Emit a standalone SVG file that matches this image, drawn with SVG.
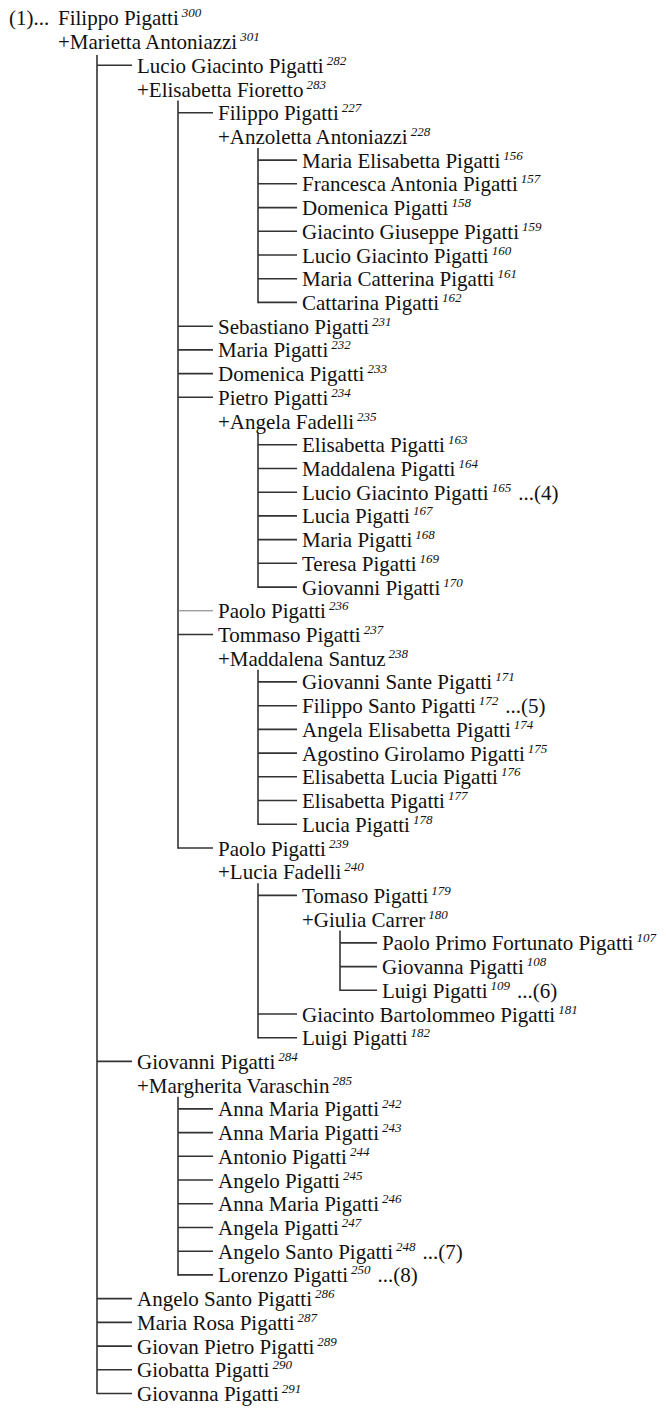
<svg xmlns="http://www.w3.org/2000/svg" width="666" height="1408" viewBox="0 0 666 1408">
<style>
text{font-family:"Liberation Serif","Times New Roman",serif;font-size:21px;fill:#111}
.n{font-style:italic;font-size:13px}
.c line{stroke:#333;stroke-width:1.6}
.c line.t{stroke:#777;stroke-width:1}
</style>
<rect width="666" height="1408" fill="#fff"/>
<g class="c" id="connectors">
<line x1="97" y1="55" x2="97" y2="1394"/>
<line x1="97" y1="65.2" x2="132" y2="65.2"/>
<line x1="97" y1="1061.4" x2="132" y2="1061.4"/>
<line x1="97" y1="1298.6" x2="132" y2="1298.6"/>
<line x1="97" y1="1322.4" x2="132" y2="1322.4"/>
<line x1="97" y1="1346.1" x2="132" y2="1346.1"/>
<line x1="97" y1="1369.8" x2="132" y2="1369.8"/>
<line x1="97" y1="1393.5" x2="132" y2="1393.5"/>
<line x1="178" y1="100.5" x2="178" y2="848.8"/>
<line x1="178" y1="112.7" x2="213" y2="112.7"/>
<line x1="178" y1="326.2" x2="213" y2="326.2"/>
<line x1="178" y1="349.9" x2="213" y2="349.9"/>
<line x1="178" y1="373.6" x2="213" y2="373.6"/>
<line x1="178" y1="397.3" x2="213" y2="397.3"/>
<line class="t" x1="178" y1="610.8" x2="213" y2="610.8"/>
<line x1="178" y1="634.5" x2="213" y2="634.5"/>
<line x1="178" y1="848" x2="213" y2="848"/>
<line x1="258" y1="148" x2="258" y2="303.2"/>
<line x1="258" y1="160.1" x2="297" y2="160.1"/>
<line x1="258" y1="183.8" x2="297" y2="183.8"/>
<line x1="258" y1="207.6" x2="297" y2="207.6"/>
<line x1="258" y1="231.3" x2="297" y2="231.3"/>
<line x1="258" y1="255" x2="297" y2="255"/>
<line x1="258" y1="278.7" x2="297" y2="278.7"/>
<line x1="258" y1="302.4" x2="297" y2="302.4"/>
<line x1="258" y1="432.5" x2="258" y2="587.9"/>
<line x1="258" y1="444.8" x2="297" y2="444.8"/>
<line x1="258" y1="468.5" x2="297" y2="468.5"/>
<line x1="258" y1="492.2" x2="297" y2="492.2"/>
<line x1="258" y1="515.9" x2="297" y2="515.9"/>
<line x1="258" y1="539.6" x2="297" y2="539.6"/>
<line x1="258" y1="563.3" x2="297" y2="563.3"/>
<line x1="258" y1="587.1" x2="297" y2="587.1"/>
<line x1="258" y1="669.7" x2="258" y2="825.1"/>
<line x1="258" y1="681.9" x2="297" y2="681.9"/>
<line x1="258" y1="705.7" x2="297" y2="705.7"/>
<line x1="258" y1="729.4" x2="297" y2="729.4"/>
<line x1="258" y1="753.1" x2="297" y2="753.1"/>
<line x1="258" y1="776.8" x2="297" y2="776.8"/>
<line x1="258" y1="800.5" x2="297" y2="800.5"/>
<line x1="258" y1="824.3" x2="297" y2="824.3"/>
<line x1="258" y1="883.2" x2="258" y2="1038.5"/>
<line x1="258" y1="895.4" x2="297" y2="895.4"/>
<line x1="258" y1="1014" x2="297" y2="1014"/>
<line x1="258" y1="1037.7" x2="297" y2="1037.7"/>
<line x1="340" y1="930.6" x2="340" y2="991.1"/>
<line x1="340" y1="942.9" x2="377" y2="942.9"/>
<line x1="340" y1="966.6" x2="377" y2="966.6"/>
<line x1="340" y1="990.3" x2="377" y2="990.3"/>
<line x1="178" y1="1096.7" x2="178" y2="1275.7"/>
<line x1="178" y1="1108.9" x2="213" y2="1108.9"/>
<line x1="178" y1="1132.6" x2="213" y2="1132.6"/>
<line x1="178" y1="1156.3" x2="213" y2="1156.3"/>
<line x1="178" y1="1180" x2="213" y2="1180"/>
<line x1="178" y1="1203.8" x2="213" y2="1203.8"/>
<line x1="178" y1="1227.5" x2="213" y2="1227.5"/>
<line x1="178" y1="1251.2" x2="213" y2="1251.2"/>
<line x1="178" y1="1274.9" x2="213" y2="1274.9"/>
</g>
<g id="p300"><text x="9" y="25.3">(1)...<tspan x="58">Filippo Pigatti</tspan><tspan class="n" dx="3" dy="-8">300</tspan></text></g>
<g id="p301"><text x="58" y="49">+Marietta Antoniazzi<tspan class="n" dx="3" dy="-8">301</tspan></text></g>
<g id="p282"><text x="137" y="72.7">Lucio Giacinto Pigatti<tspan class="n" dx="3" dy="-8">282</tspan></text></g>
<g id="p283"><text x="137" y="96.5">+Elisabetta Fioretto<tspan class="n" dx="3" dy="-8">283</tspan></text></g>
<g id="p227"><text x="218" y="120.2">Filippo Pigatti<tspan class="n" dx="3" dy="-8">227</tspan></text></g>
<g id="p228"><text x="218" y="143.9">+Anzoletta Antoniazzi<tspan class="n" dx="3" dy="-8">228</tspan></text></g>
<g id="p156"><text x="302" y="167.6">Maria Elisabetta Pigatti<tspan class="n" dx="3" dy="-8">156</tspan></text></g>
<g id="p157"><text x="302" y="191.3">Francesca Antonia Pigatti<tspan class="n" dx="3" dy="-8">157</tspan></text></g>
<g id="p158"><text x="302" y="215.1">Domenica Pigatti<tspan class="n" dx="3" dy="-8">158</tspan></text></g>
<g id="p159"><text x="302" y="238.8">Giacinto Giuseppe Pigatti<tspan class="n" dx="3" dy="-8">159</tspan></text></g>
<g id="p160"><text x="302" y="262.5">Lucio Giacinto Pigatti<tspan class="n" dx="3" dy="-8">160</tspan></text></g>
<g id="p161"><text x="302" y="286.2">Maria Catterina Pigatti<tspan class="n" dx="3" dy="-8">161</tspan></text></g>
<g id="p162"><text x="302" y="309.9">Cattarina Pigatti<tspan class="n" dx="3" dy="-8">162</tspan></text></g>
<g id="p231"><text x="218" y="333.7">Sebastiano Pigatti<tspan class="n" dx="3" dy="-8">231</tspan></text></g>
<g id="p232"><text x="218" y="357.4">Maria Pigatti<tspan class="n" dx="3" dy="-8">232</tspan></text></g>
<g id="p233"><text x="218" y="381.1">Domenica Pigatti<tspan class="n" dx="3" dy="-8">233</tspan></text></g>
<g id="p234"><text x="218" y="404.8">Pietro Pigatti<tspan class="n" dx="3" dy="-8">234</tspan></text></g>
<g id="p235"><text x="218" y="428.5">+Angela Fadelli<tspan class="n" dx="3" dy="-8">235</tspan></text></g>
<g id="p163"><text x="302" y="452.3">Elisabetta Pigatti<tspan class="n" dx="3" dy="-8">163</tspan></text></g>
<g id="p164"><text x="302" y="476">Maddalena Pigatti<tspan class="n" dx="3" dy="-8">164</tspan></text></g>
<g id="p165"><text x="302" y="499.7">Lucio Giacinto Pigatti<tspan class="n" dx="3" dy="-8">165</tspan><tspan dx="7" dy="8">...(4)</tspan></text></g>
<g id="p167"><text x="302" y="523.4">Lucia Pigatti<tspan class="n" dx="3" dy="-8">167</tspan></text></g>
<g id="p168"><text x="302" y="547.1">Maria Pigatti<tspan class="n" dx="3" dy="-8">168</tspan></text></g>
<g id="p169"><text x="302" y="570.8">Teresa Pigatti<tspan class="n" dx="3" dy="-8">169</tspan></text></g>
<g id="p170"><text x="302" y="594.6">Giovanni Pigatti<tspan class="n" dx="3" dy="-8">170</tspan></text></g>
<g id="p236"><text x="218" y="618.3">Paolo Pigatti<tspan class="n" dx="3" dy="-8">236</tspan></text></g>
<g id="p237"><text x="218" y="642">Tommaso Pigatti<tspan class="n" dx="3" dy="-8">237</tspan></text></g>
<g id="p238"><text x="218" y="665.7">+Maddalena Santuz<tspan class="n" dx="3" dy="-8">238</tspan></text></g>
<g id="p171"><text x="302" y="689.4">Giovanni Sante Pigatti<tspan class="n" dx="3" dy="-8">171</tspan></text></g>
<g id="p172"><text x="302" y="713.2">Filippo Santo Pigatti<tspan class="n" dx="3" dy="-8">172</tspan><tspan dx="7" dy="8">...(5)</tspan></text></g>
<g id="p174"><text x="302" y="736.9">Angela Elisabetta Pigatti<tspan class="n" dx="3" dy="-8">174</tspan></text></g>
<g id="p175"><text x="302" y="760.6">Agostino Girolamo Pigatti<tspan class="n" dx="3" dy="-8">175</tspan></text></g>
<g id="p176"><text x="302" y="784.3">Elisabetta Lucia Pigatti<tspan class="n" dx="3" dy="-8">176</tspan></text></g>
<g id="p177"><text x="302" y="808">Elisabetta Pigatti<tspan class="n" dx="3" dy="-8">177</tspan></text></g>
<g id="p178"><text x="302" y="831.8">Lucia Pigatti<tspan class="n" dx="3" dy="-8">178</tspan></text></g>
<g id="p239"><text x="218" y="855.5">Paolo Pigatti<tspan class="n" dx="3" dy="-8">239</tspan></text></g>
<g id="p240"><text x="218" y="879.2">+Lucia Fadelli<tspan class="n" dx="3" dy="-8">240</tspan></text></g>
<g id="p179"><text x="302" y="902.9">Tomaso Pigatti<tspan class="n" dx="3" dy="-8">179</tspan></text></g>
<g id="p180"><text x="302" y="926.6">+Giulia Carrer<tspan class="n" dx="3" dy="-8">180</tspan></text></g>
<g id="p107"><text x="382" y="950.4">Paolo Primo Fortunato Pigatti<tspan class="n" dx="3" dy="-8">107</tspan></text></g>
<g id="p108"><text x="382" y="974.1">Giovanna Pigatti<tspan class="n" dx="3" dy="-8">108</tspan></text></g>
<g id="p109"><text x="382" y="997.8">Luigi Pigatti<tspan class="n" dx="3" dy="-8">109</tspan><tspan dx="7" dy="8">...(6)</tspan></text></g>
<g id="p181"><text x="302" y="1021.5">Giacinto Bartolommeo Pigatti<tspan class="n" dx="3" dy="-8">181</tspan></text></g>
<g id="p182"><text x="302" y="1045.2">Luigi Pigatti<tspan class="n" dx="3" dy="-8">182</tspan></text></g>
<g id="p284"><text x="137" y="1068.9">Giovanni Pigatti<tspan class="n" dx="3" dy="-8">284</tspan></text></g>
<g id="p285"><text x="137" y="1092.7">+Margherita Varaschin<tspan class="n" dx="3" dy="-8">285</tspan></text></g>
<g id="p242"><text x="218" y="1116.4">Anna Maria Pigatti<tspan class="n" dx="3" dy="-8">242</tspan></text></g>
<g id="p243"><text x="218" y="1140.1">Anna Maria Pigatti<tspan class="n" dx="3" dy="-8">243</tspan></text></g>
<g id="p244"><text x="218" y="1163.8">Antonio Pigatti<tspan class="n" dx="3" dy="-8">244</tspan></text></g>
<g id="p245"><text x="218" y="1187.5">Angelo Pigatti<tspan class="n" dx="3" dy="-8">245</tspan></text></g>
<g id="p246"><text x="218" y="1211.3">Anna Maria Pigatti<tspan class="n" dx="3" dy="-8">246</tspan></text></g>
<g id="p247"><text x="218" y="1235">Angela Pigatti<tspan class="n" dx="3" dy="-8">247</tspan></text></g>
<g id="p248"><text x="218" y="1258.7">Angelo Santo Pigatti<tspan class="n" dx="3" dy="-8">248</tspan><tspan dx="7" dy="8">...(7)</tspan></text></g>
<g id="p250"><text x="218" y="1282.4">Lorenzo Pigatti<tspan class="n" dx="3" dy="-8">250</tspan><tspan dx="7" dy="8">...(8)</tspan></text></g>
<g id="p286"><text x="137" y="1306.1">Angelo Santo Pigatti<tspan class="n" dx="3" dy="-8">286</tspan></text></g>
<g id="p287"><text x="137" y="1329.9">Maria Rosa Pigatti<tspan class="n" dx="3" dy="-8">287</tspan></text></g>
<g id="p289"><text x="137" y="1353.6">Giovan Pietro Pigatti<tspan class="n" dx="3" dy="-8">289</tspan></text></g>
<g id="p290"><text x="137" y="1377.3">Giobatta Pigatti<tspan class="n" dx="3" dy="-8">290</tspan></text></g>
<g id="p291"><text x="137" y="1401">Giovanna Pigatti<tspan class="n" dx="3" dy="-8">291</tspan></text></g>
</svg>
